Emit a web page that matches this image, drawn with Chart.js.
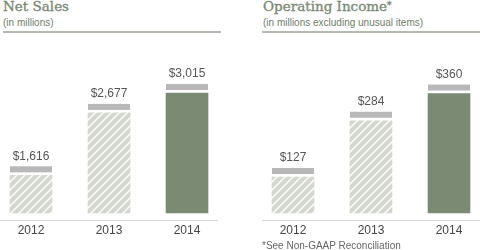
<!DOCTYPE html>
<html>
<head>
<meta charset="utf-8">
<script src="https://cdn.jsdelivr.net/npm/chart.js@4/dist/chart.umd.min.js"></script>
<style>
  html, body { margin: 0; padding: 0; background: #fff; }
  #wrap { position: relative; width: 480px; height: 250px; overflow: hidden; }
  .title { position: absolute; top: -1px; font-family: "DejaVu Serif", serif; font-weight: normal; font-size: 13.5px; color: #7a8973; line-height: 14px; white-space: nowrap; -webkit-text-stroke: 0.35px #7a8973; }
  .title sup { font-size: 9px; vertical-align: top; position: relative; top: -1px; }
  .sub { position: absolute; top: 17px; font-family: "Liberation Sans", Arial, sans-serif; font-size: 10px; color: #6f7d68; line-height: 12px; white-space: nowrap; }
  .rule { position: absolute; top: 31px; height: 2px; background: #b4bab0; }
  .note { position: absolute; left: 262px; top: 240px; font-family: "Liberation Sans", Arial, sans-serif; font-size: 10px; color: #666; line-height: 12px; white-space: nowrap; }
  .cv { position: absolute; top: 40px; width: 218px; height: 210px; }
</style>
</head>
<body>
<div id="wrap">
  <div class="title" style="left:3px">Net Sales</div>
  <div class="sub" style="left:3px">(in millions)</div>
  <div class="rule" style="left:3px;width:218px"></div>
  <div class="title" style="left:263px">Operating Income<sup>*</sup></div>
  <div class="sub" style="left:263px">(in millions excluding unusual items)</div>
  <div class="rule" style="left:262px;width:218px"></div>
  <div class="cv" style="left:0px"><canvas id="c1" width="218" height="210"></canvas></div>
  <div class="cv" style="left:262px"><canvas id="c2" width="218" height="210"></canvas></div>
  <div class="note">*See Non-GAAP Reconciliation</div>
</div>
<script>
// ---- data ----
const years = ['2012', '2013', '2014'];
const netSales = [1616, 2677, 3015];
const operatingIncome = [127, 284, 360];
const netSalesAxis = [975, 3917];
const operatingIncomeAxis = [26.5, 509.5];

function money(v) { return '$' + v.toLocaleString('en-US'); }

function hatchPattern() {
  const p = document.createElement('canvas');
  p.width = 8; p.height = 8;
  const g = p.getContext('2d');
  g.fillStyle = '#d3d7cd';
  g.fillRect(0, 0, 8, 8);
  g.strokeStyle = '#ffffff';
  g.lineWidth = 1.4;
  g.beginPath();
  g.moveTo(-2, 10); g.lineTo(10, -2);
  g.moveTo(-2, 2); g.lineTo(2, -2);
  g.moveTo(6, 10); g.lineTo(10, 6);
  g.stroke();
  return g.createPattern(p, 'repeat');
}

const capsAndLabels = {
  id: 'capsAndLabels',
  afterDatasetsDraw(chart) {
    const ctx = chart.ctx;
    const meta = chart.getDatasetMeta(0);
    const vals = chart.data.datasets[0].data;
    ctx.save();
    meta.data.forEach((el, i) => {
      const p = el.getProps(['x', 'y', 'width'], true);
      ctx.fillStyle = '#b8b8b8';
      ctx.fillRect(p.x - p.width / 2, p.y - 9, p.width, 6);
      ctx.fillStyle = '#555555';
      ctx.font = '12px "Liberation Sans", Arial, sans-serif';
      ctx.textAlign = 'center';
      ctx.textBaseline = 'middle';
      ctx.fillText(money(vals[i]), p.x, p.y - 19);
    });
    ctx.restore();
  },
  afterDraw(chart) {
    const ctx = chart.ctx;
    ctx.save();
    ctx.fillStyle = '#d8d8d8';
    ctx.fillRect(0, chart.chartArea.bottom + 7, chart.width, 1);
    ctx.restore();
  }
};

function makeChart(id, values, axis) {
  const hatch = hatchPattern();
  return new Chart(document.getElementById(id), {
    type: 'bar',
    data: {
      labels: years,
      datasets: [{
        data: values,
        base: axis[0],
        backgroundColor: [hatch, hatch, '#7b8a73'],
        borderWidth: 0,
        barThickness: 42,
        clip: false
      }]
    },
    options: {
      responsive: false,
      animation: false,
      events: [],
      layout: { padding: { left: 31, right: 31, top: 0, bottom: 0 } },
      plugins: { legend: { display: false }, tooltip: { enabled: false } },
      scales: {
        x: {
          offset: false,
          grid: { display: false, drawTicks: false },
          border: { display: false },
          ticks: { color: '#444', padding: 10, font: { family: '"Liberation Sans", Arial, sans-serif', size: 12 } },
          afterFit(s) { s.height = 37; }
        },
        y: {
          display: false,
          min: axis[0],
          max: axis[1]
        }
      }
    },
    plugins: [capsAndLabels]
  });
}

makeChart('c1', netSales, netSalesAxis);
makeChart('c2', operatingIncome, operatingIncomeAxis);
</script>
</body>
</html>
